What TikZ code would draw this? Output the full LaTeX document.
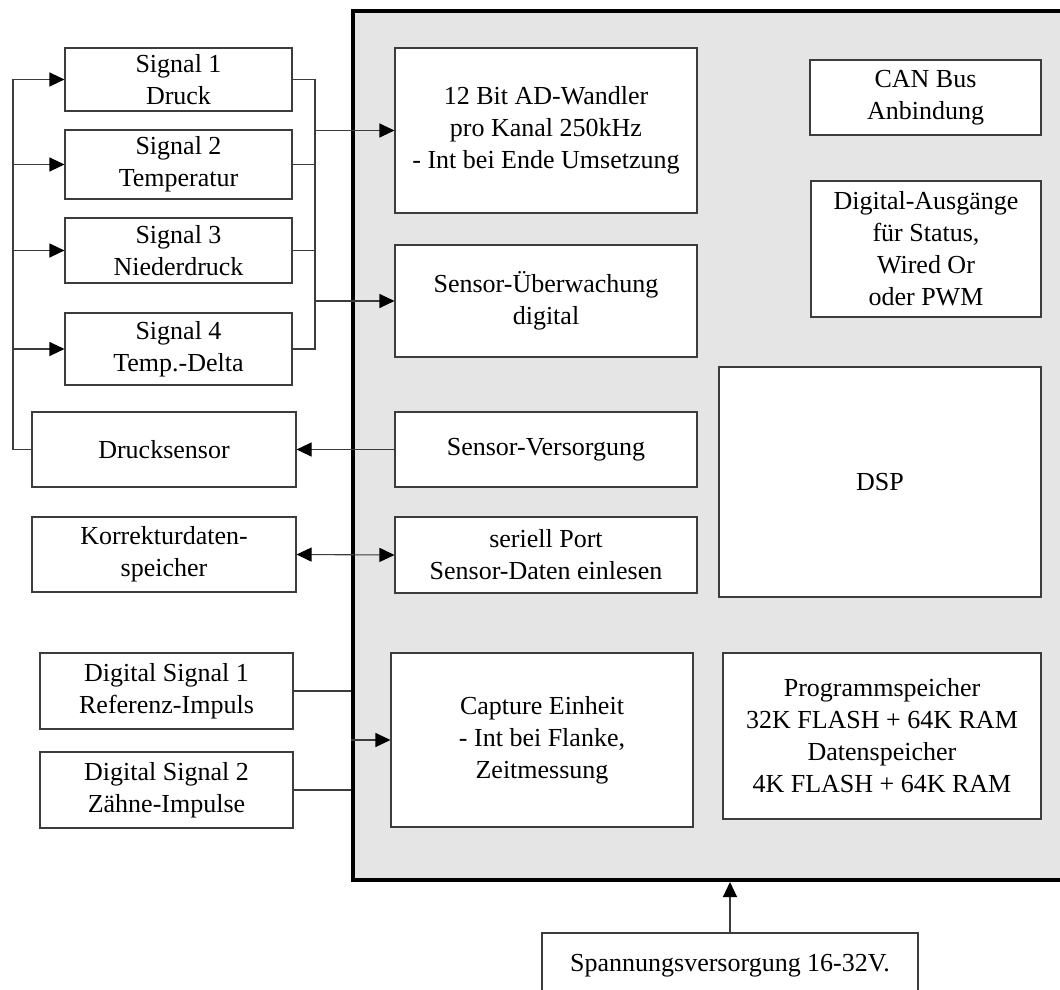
\documentclass[tikz,border=0pt]{standalone}
\usepackage{fontspec}
\setmainfont{Liberation Serif}
\usepackage{tikz}
\usetikzlibrary{arrows.meta,positioning,calc}
\usepackage{xcolor}
\definecolor{cpugray}{RGB}{229,229,229}
\definecolor{linegray}{RGB}{60,60,60}

\begin{document}
\begin{tikzpicture}[x=1pt, y=-1pt,
    box/.style={draw=linegray, line width=1.1pt, fill=white, inner sep=0pt, align=center, font=\fontsize{26}{32}\selectfont},
    wire/.style={draw=linegray, line width=1.1pt},
    arr/.style={wire, -{Triangle[length=15pt,width=14pt,color=black]}},
    arrboth/.style={wire, {Triangle[length=15pt,width=14pt,color=black]}-{Triangle[length=15pt,width=14pt,color=black]}}]
    \useasboundingbox (0,0) rectangle (1060,990);
    \clip (0,0) rectangle (1060,990);

    % Steuergeraet
    \node[draw=black, line width=4pt, fill=cpugray, inner sep=0pt, minimum width=717pt, minimum height=869pt] (cpu) at (711.5,445.5) {};

    % Sensor-Eingaenge
    \node[box, minimum width=227pt, minimum height=63pt] (sig1) at (178.5,79.5) {Signal 1\\Druck};
    \node[box, minimum width=227pt, minimum height=69pt] (sig2) at (178.5,164.5) {Signal 2\\Temperatur};
    \node[box, minimum width=227pt, minimum height=65pt] (sig3) at (178.5,250.5) {Signal 3\\Niederdruck};
    \node[box, minimum width=227pt, minimum height=72pt] (sig4) at (178.5,349) {Signal 4\\Temp.-Delta};
    \node[box, minimum width=264pt, minimum height=75pt] (drucksensor) at (164,449.5) {Drucksensor};
    \node[box, minimum width=264pt, minimum height=75pt] (korrektur) at (164,554.5) {Korrekturdaten-\\speicher};
    \node[box, minimum width=253pt, minimum height=76pt] (dsig1) at (166.5,691) {Digital Signal 1\\Referenz-Impuls};
    \node[box, minimum width=253pt, minimum height=76pt] (dsig2) at (166.5,790) {Digital Signal 2\\Z\"ahne-Impulse};

    % Bloecke im Geraet
    \node[box, minimum width=302pt, minimum height=165pt] (ad) at (546,130.5) {12 Bit AD-Wandler\\pro Kanal 250kHz\\- Int bei Ende Umsetzung};
    \node[box, minimum width=302pt, minimum height=112pt] (ueberw) at (546,301) {Sensor-\"Uberwachung\\digital};
    \node[box, minimum width=302pt, minimum height=75pt] (versorg) at (546,449.5) {Sensor-Versorgung};
    \node[box, minimum width=302pt, minimum height=76pt] (seriell) at (546,555) {seriell Port\\Sensor-Daten einlesen};
    \node[box, minimum width=302pt, minimum height=174pt] (capture) at (542,740) {Capture Einheit\\- Int bei Flanke,\\Zeitmessung};
    \node[box, minimum width=231pt, minimum height=75pt] (can) at (925.5,97.5) {CAN Bus\\Anbindung};
    \node[box, minimum width=230pt, minimum height=136pt] (digout) at (926,249) {Digital-Ausg\"ange\\f\"ur Status,\\Wired Or\\oder PWM};
    \node[box, minimum width=322pt, minimum height=230pt] (dsp) at (880,482) {DSP};
    \node[box, minimum width=318pt, minimum height=166pt] (prog) at (882,736) {Programmspeicher\\32K FLASH + 64K RAM\\Datenspeicher\\4K FLASH + 64K RAM};

    % Versorgung
    \node[box, minimum width=376pt, minimum height=66pt] (spann) at (730,966) {Spannungsversorgung 16-32V.};

    % Sammelleitungen
    \coordinate (lbus) at (13,0);
    \coordinate (rbus) at (315,0);

    \draw[arr] (drucksensor.west) -| (lbus |- sig1.west) -- (sig1.west);
    \foreach \s in {sig2,sig3,sig4}
        \draw[arr] (lbus |- \s.west) -- (\s.west);

    \draw[wire] (sig1.east) -| (rbus |- sig4.east) -- (sig4.east);
    \draw[wire] (sig2.east) -- (rbus |- sig2.east);
    \draw[wire] (sig3.east) -- (rbus |- sig3.east);
    \draw[arr] (rbus |- ad.west) -- (ad.west);
    \draw[arr] (rbus |- ueberw.west) -- (ueberw.west);

    \draw[arr] (versorg.west) -- (drucksensor.east);
    \draw[arrboth] (korrektur.east) -- (seriell.west);

    \draw[wire] (dsig1.east) -- (dsig1.east -| cpu.west);
    \draw[wire] (dsig2.east) -- (dsig2.east -| cpu.west);
    \draw[arr] (capture.west -| cpu.west) -- (capture.west);

    \draw[arr] (spann.north) -- (spann.north |- cpu.south);
\end{tikzpicture}
\end{document}
